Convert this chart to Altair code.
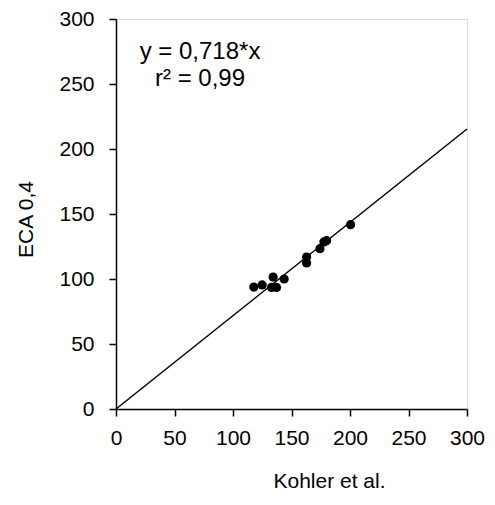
import altair as alt
import pandas as pd

# Data
kohler = [117.8, 124.9, 134.3, 132.9, 137.2, 143.7, 162.9, 162.9, 174.3, 177.7, 180.0, 200.5]
eca = [93.8, 95.4, 101.5, 93.5, 93.5, 100.0, 116.9, 112.3, 123.3, 128.5, 129.5, 141.8]
slope = 0.718
line_x = [0, 300]
ticks = [0, 50, 100, 150, 200, 250, 300]
eq_lines = ["y = 0,718*x", "r² = 0,99"]

FONT = "Liberation Sans"

pts = pd.DataFrame({"x": kohler, "y": eca})
ln = pd.DataFrame({"x": line_x})

xscale = alt.Scale(domain=[0, 300], nice=False)
yscale = alt.Scale(domain=[0, 300], nice=False)

xaxis = alt.Axis(
    values=ticks, title="Kohler et al.", grid=False, labelFlush=False, labelOverlap=False,
    domainColor="black", domainWidth=1.5, tickColor="black", tickWidth=1.5, tickSize=7,
    labelFont=FONT, labelFontSize=21, labelColor="black", labelPadding=11,
    titleFont=FONT, titleFontSize=21, titleFontWeight="normal", titleColor="black",
    titleX=213, titleY=78, titleAlign="center", titleBaseline="alphabetic",
)
yaxis = alt.Axis(
    values=ticks, title="ECA 0,4", grid=False, labelFlush=False, labelOverlap=False,
    domainColor="black", domainWidth=1.5, tickColor="black", tickWidth=1.5, tickSize=7,
    labelFont=FONT, labelFontSize=21, labelColor="black", labelPadding=15,
    titleFont=FONT, titleFontSize=21, titleFontWeight="normal", titleColor="black",
    titleAngle=270, titleX=-90, titleY=200, titleAlign="center", titleBaseline="middle",
)

line = alt.Chart(ln).transform_calculate(
    y=f"{slope} * datum.x"
).mark_line(color="black", strokeWidth=1.5).encode(
    x=alt.X("x:Q", scale=xscale, axis=xaxis),
    y=alt.Y("y:Q", scale=yscale, axis=yaxis),
)

points = alt.Chart(pts).mark_point(filled=True, color="black", size=85, opacity=1, shape="circle").encode(
    x=alt.X("x:Q", scale=xscale),
    y=alt.Y("y:Q", scale=yscale),
)

label = alt.Chart(pd.DataFrame({"t": [0]})).mark_text(
    font=FONT, fontSize=24, color="black", align="center", baseline="middle", lineHeight=27,
).encode(
    x=alt.value(84),
    y=alt.value(33),
    text=alt.value(eq_lines),
)

chart = alt.layer(line, points, label).properties(
    width=351, height=390,
    autosize=alt.AutoSizeParams(type="none"),
    padding={"left": 108, "top": 11, "right": 20, "bottom": 88},
).configure_view(stroke=None).configure(background="white")

chart.save("out.html", embed_options={"renderer": "svg", "actions": False})
